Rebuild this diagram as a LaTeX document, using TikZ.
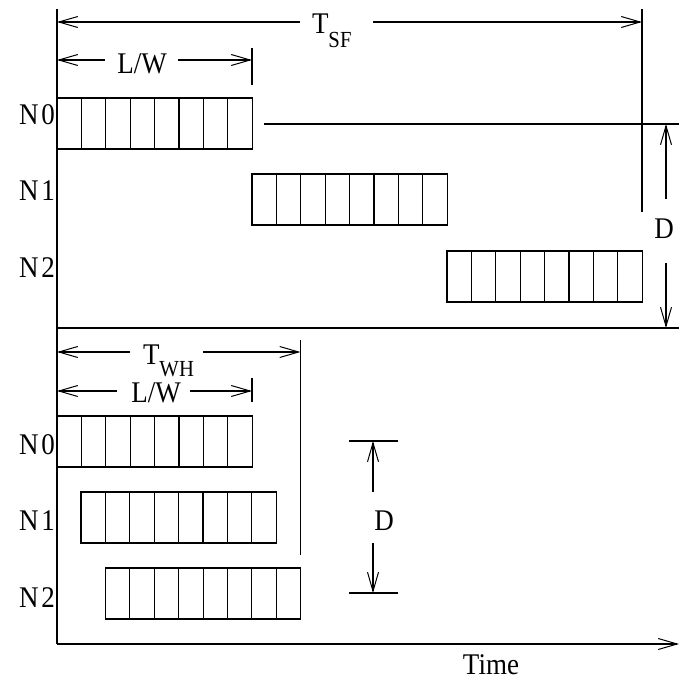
\documentclass[tikz,border=0pt]{standalone}
\usepackage{fontspec}
\setmainfont{Liberation Serif}[FakeStretch=0.9]
\usetikzlibrary{arrows.meta}
\tikzset{
  lbl/.style={font=\fontsize{30}{33}\selectfont, inner sep=0pt, outer sep=0pt},
  dim/.style={-{Straight Barb[length=19pt,width=11pt,line width=1pt]}},
  cellrow/.style={draw, anchor=north west, inner sep=0pt, outer sep=0pt,
    minimum width=195.2pt, minimum height=51pt,
    path picture={\foreach \k in {1,...,7}
      {\draw ([xshift=\k*24.4pt]path picture bounding box.north west)
         -- ([xshift=\k*24.4pt]path picture bounding box.south west);}}}
}
\newcommand{\subtxt}[2]{\smash{\raisebox{-#1}{\fontsize{23}{23}\selectfont #2}}}
\begin{document}
\begin{tikzpicture}[x=1pt,y=-1pt,line width=1.1pt]
\useasboundingbox (0,0) rectangle (679,688);

% axes
\coordinate (top) at (57,9);
\coordinate (orig) at (57,644);
\coordinate (tend) at (679,644);
\draw (top) -- (orig);
\draw[dim] (orig) -- (tend);
\node[lbl, anchor=base] (time) at (491,674) {Time};

% ---------- store-and-forward ----------
\node[cellrow] (a0) at (57,98) {};
\node[cellrow] (a1) at (252,174) {};
\node[cellrow] (a2) at (447,251) {};
\node[lbl, anchor=base east] (la0) at (55,124) {N\kern3pt0};
\node[lbl, anchor=base east] (la1) at (55,200) {N\kern3pt1};
\node[lbl, anchor=base east] (la2) at (55,277) {N\kern3pt2};

% T_SF dimension
\coordinate (sfR) at (642,9);
\coordinate (sfRb) at (642,212);
\draw (sfR) -- (sfRb);
\node[lbl, anchor=base west] (tsf) at (312,33) {T\subtxt{14pt}{SF}};
\coordinate (sf1) at (300,22); \coordinate (sf0) at (57,22);
\coordinate (sf2) at (373,22); \coordinate (sf3) at (642,22);
\draw[dim] (sf1) -- (sf0);
\draw[dim] (sf2) -- (sf3);

% L/W dimension (upper)
\coordinate (tk1) at (252,48); \coordinate (tk2) at (252,85);
\draw (tk1) -- (tk2);
\node[lbl, anchor=base] (lw1) at (142,73) {L/W};
\coordinate (lw1a) at (105,60); \coordinate (lw1o) at (57,60);
\coordinate (lw1b) at (178,60); \coordinate (lw1e) at (252,60);
\draw[dim] (lw1a) -- (lw1o);
\draw[dim] (lw1b) -- (lw1e);

% D dimension (upper)
\coordinate (r0) at (264,124); \coordinate (r1) at (679,124);
\draw (r0) -- (r1);
\coordinate (sep0) at (57,328); \coordinate (sep1) at (679,328);
\draw (sep0) -- (sep1);
\node[lbl, anchor=base] (d1) at (664,238) {D};
\coordinate (d1a) at (666,199); \coordinate (d1t) at (666,124);
\coordinate (d1b) at (666,263); \coordinate (d1e) at (666,328);
\draw[dim] (d1a) -- (d1t);
\draw[dim] (d1b) -- (d1e);

% ---------- wormhole ----------
\node[cellrow] (b0) at (57,416) {};
\node[cellrow] (b1) at (81,492) {};
\node[cellrow] (b2) at (105.5,568) {};
\node[lbl, anchor=base east] (lb0) at (55,454) {N\kern3pt0};
\node[lbl, anchor=base east] (lb1) at (55,530) {N\kern3pt1};
\node[lbl, anchor=base east] (lb2) at (55,607) {N\kern3pt2};

% T_WH dimension
\coordinate (whR) at (300.5,340); \coordinate (whRb) at (300.5,555);
\draw (whR) -- (whRb);
\node[lbl, anchor=base west] (twh) at (143,364) {T\subtxt{12pt}{WH}};
\coordinate (wh1) at (130,352); \coordinate (wh0) at (57,352);
\coordinate (wh2) at (203,352); \coordinate (wh3) at (300.5,352);
\draw[dim] (wh1) -- (wh0);
\draw[dim] (wh2) -- (wh3);

% L/W dimension (lower)
\coordinate (tk3) at (252,378); \coordinate (tk4) at (252,402);
\draw (tk3) -- (tk4);
\node[lbl, anchor=base] (lw2) at (156,402) {L/W};
\coordinate (lw2a) at (117,391); \coordinate (lw2o) at (57,391);
\coordinate (lw2b) at (190,391); \coordinate (lw2e) at (252,391);
\draw[dim] (lw2a) -- (lw2o);
\draw[dim] (lw2b) -- (lw2e);

% D dimension (lower)
\coordinate (dt0) at (349,441); \coordinate (dt1) at (398,441);
\coordinate (db0) at (349,593); \coordinate (db1) at (398,593);
\draw (dt0) -- (dt1);
\draw (db0) -- (db1);
\node[lbl, anchor=base] (d2) at (384,530) {D};
\coordinate (d2a) at (373,492); \coordinate (d2t) at (373,441);
\coordinate (d2b) at (373,543); \coordinate (d2e) at (373,593);
\draw[dim] (d2a) -- (d2t);
\draw[dim] (d2b) -- (d2e);
\end{tikzpicture}
\end{document}
